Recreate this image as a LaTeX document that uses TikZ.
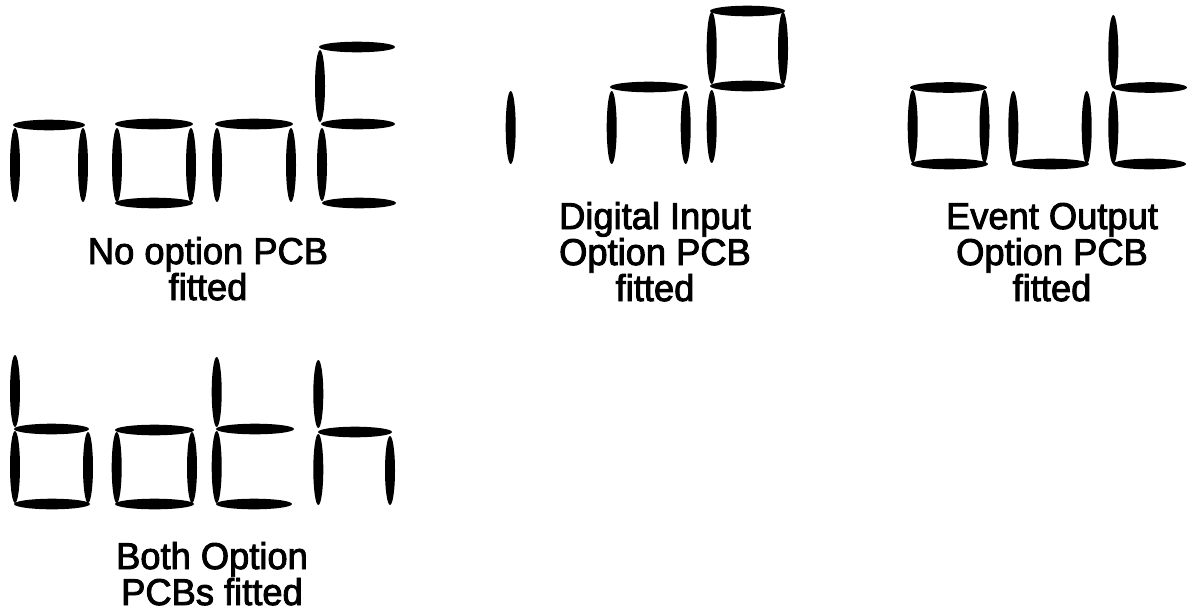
\documentclass[tikz,border=0pt]{standalone}
\usepackage{graphicx}
\usepackage{fontspec}
\setmainfont{Liberation Sans}
\newfontfamily\lblfont[FakeBold=2.5]{Liberation Sans}
\newcommand\HSeg[3]{\fill[segfill] ({(#1+#2)/2},#3) ellipse [x radius={(#2-#1)/2+2}, y radius=5.3];}
\newcommand\VSeg[3]{\fill[segfill] (#1,{(#2+#3)/2}) ellipse [x radius=5, y radius={(#3-#2)/2}];}
\newcommand\Wid[1]{\scalebox{1.1}[1.13]{#1}}
\begin{document}
\begin{tikzpicture}[x=1pt,y=-1pt,
  segfill/.style={fill=black},
  lbl/.style={anchor=base,inner sep=0pt,font=\lblfont\fontsize{33}{36}\selectfont}]
\useasboundingbox[fill=white] (0,0) rectangle (1190,614);
% ---- nonE : T=47 M=125 B=203
% n
\HSeg{15}{83}{125}\VSeg{15}{128}{202}\VSeg{83}{128}{202}
% o
\HSeg{117}{191}{124}\HSeg{117}{191}{203}\VSeg{117}{128}{202}\VSeg{191}{128}{202}
% n
\HSeg{217}{291}{124}\VSeg{217}{128}{202}\VSeg{291}{128}{202}
% E
\HSeg{321}{393}{47}\HSeg{323}{393}{124}\HSeg{324}{394}{203}
\VSeg{320}{50}{122}\VSeg{322}{128}{201}
% ---- inP : T=11 M=87 B=164
\VSeg{510.7}{91}{164}
\HSeg{612}{686}{87}\VSeg{611.7}{91}{164}\VSeg{685.7}{91}{164}
\HSeg{712}{783}{11}\HSeg{712}{783}{86}\VSeg{711.7}{12}{84}\VSeg{711.7}{90}{163}\VSeg{783}{12}{85}
% ---- out : T=13 M=87.5 B=164
\HSeg{912}{985}{87.5}\HSeg{913}{986}{164}\VSeg{912.7}{90}{163}\VSeg{984.5}{90}{163}
\VSeg{1013.3}{91}{164}\VSeg{1086.7}{91}{164}\HSeg{1014}{1087}{164}
\VSeg{1113.3}{15}{88}\HSeg{1115}{1185}{87.5}\VSeg{1113.3}{91}{164}\HSeg{1115}{1184}{164}
% ---- both : T=353 M=429 B=504
\VSeg{15}{355}{427}\HSeg{16}{87}{429}\VSeg{15}{431}{503}\VSeg{88}{432}{503}\HSeg{16}{88}{504}
\HSeg{117}{192}{430}\VSeg{116.7}{432}{503}\VSeg{192}{432}{503}\HSeg{117}{192}{504}
\VSeg{216.7}{357}{427}\HSeg{218}{292}{429}\VSeg{216.7}{431}{503}\HSeg{218}{290}{504}
\VSeg{318.3}{360}{428}\HSeg{320}{390}{432}\VSeg{318.3}{434}{505}\VSeg{390}{436}{505}
% ---- labels
\node[lbl] (l1a) at (208,264) {\Wid{No option PCB}};
\node[lbl] (l1b) at (208,300) {\Wid{fitted}};
\node[lbl] (l2a) at (655,229) {\Wid{Digital Input}};
\node[lbl] (l2b) at (655,265) {\Wid{Option PCB}};
\node[lbl] (l2c) at (655,301) {\Wid{fitted}};
\node[lbl] (l3a) at (1052,229) {\Wid{Event Output}};
\node[lbl] (l3b) at (1052,265) {\Wid{Option PCB}};
\node[lbl] (l3c) at (1052,301) {\Wid{fitted}};
\node[lbl] (l4a) at (212,569) {\Wid{Both Option}};
\node[lbl] (l4b) at (212,605) {\Wid{PCBs fitted}};
\end{tikzpicture}
\end{document}
